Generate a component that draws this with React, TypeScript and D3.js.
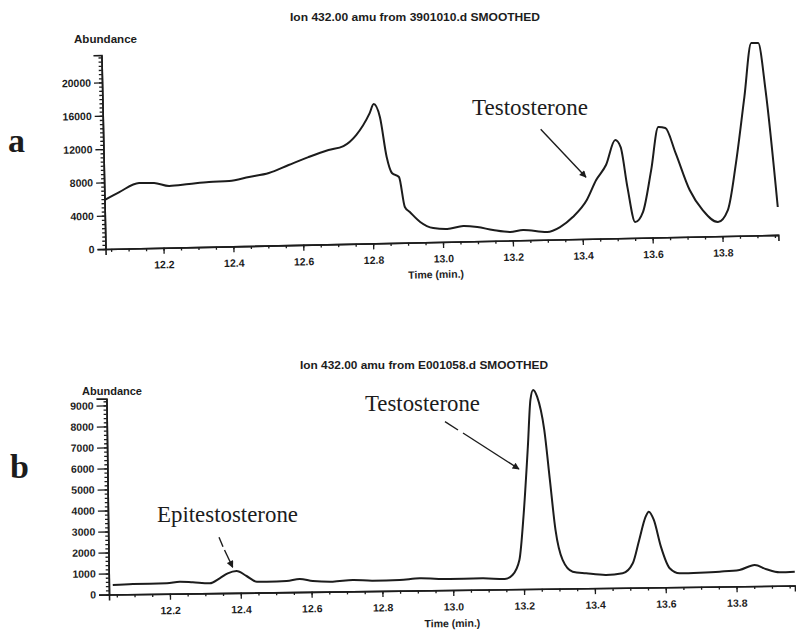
import React, { useEffect, useRef } from 'react';
import * as d3 from 'd3';

// trace a: Ion 432.00 amu from 3901010.d
const timeA = [12.034, 12.077, 12.134, 12.177, 12.22, 12.277, 12.334, 12.392, 12.449, 12.506, 12.563, 12.62, 12.678, 12.721, 12.758, 12.798, 12.81, 12.827, 12.844, 12.858, 12.878, 12.893, 12.907, 12.936, 12.973, 13.013, 13.059, 13.099, 13.144, 13.193, 13.23, 13.299, 13.336, 13.373, 13.414, 13.442, 13.471, 13.499, 13.514, 13.531, 13.551, 13.574, 13.6, 13.623, 13.643, 13.671, 13.709, 13.745, 13.788, 13.817, 13.843, 13.871, 13.894, 13.914, 13.932, 13.96];
const abundA = [5880, 6800, 7830, 7800, 7400, 7590, 7780, 7850, 8280, 8710, 9620, 10520, 11320, 11760, 13050, 15650, 16720, 15150, 10330, 8400, 7900, 4290, 3670, 2450, 1690, 1540, 1860, 1700, 1300, 1020, 1230, 920, 1490, 2660, 4670, 7040, 8820, 11790, 10940, 6120, 1900, 3080, 8100, 13250, 13110, 10080, 5610, 3170, 1700, 3110, 8730, 16630, 23090, 23070, 17420, 3350];

// trace b: Ion 432.00 amu from E001058.d
const timeB = [12.039, 12.096, 12.192, 12.228, 12.265, 12.313, 12.341, 12.364, 12.389, 12.417, 12.446, 12.474, 12.53, 12.567, 12.604, 12.66, 12.717, 12.773, 12.849, 12.906, 12.99, 13.083, 13.146, 13.168, 13.188, 13.202, 13.216, 13.225, 13.233, 13.244, 13.263, 13.277, 13.291, 13.31, 13.338, 13.376, 13.432, 13.479, 13.508, 13.527, 13.546, 13.555, 13.569, 13.588, 13.612, 13.64, 13.696, 13.753, 13.809, 13.852, 13.885, 13.922, 13.965];
const abundB = [449, 484, 497, 565, 528, 470, 702, 935, 1040, 795, 517, 511, 532, 619, 516, 470, 539, 493, 510, 578, 526, 539, 492, 678, 1388, 3623, 6762, 9000, 9473, 9152, 7562, 5177, 2794, 1361, 798, 713, 620, 690, 1160, 2266, 3371, 3607, 3209, 1933, 900, 655, 671, 707, 775, 1004, 792, 641, 660];

const timeTicks = [12.2, 12.4, 12.6, 12.8, 13.0, 13.2, 13.4, 13.6, 13.8];
const yTicksA = [0, 4000, 8000, 12000, 16000, 20000];
const yTicksB = [0, 1000, 2000, 3000, 4000, 5000, 6000, 7000, 8000, 9000];

const INK = '#1c1c1c';
const SANS = '"Liberation Sans", Arial, sans-serif';
const SERIF = '"Liberation Serif", "Times New Roman", serif';

function Panel(p: any) {
  const xRef = useRef<SVGGElement>(null);
  const yRef = useRef<SVGGElement>(null);

  const x = d3.scaleLinear().domain(p.xDomain).range([0, p.width]);
  const y = d3.scaleLinear().domain([0, p.yMax]).range([p.height, 0]);

  useEffect(() => {
    const gx = d3.select(xRef.current);
    gx.selectAll('*').remove();
    const minorX = d3.range(241, 280).map(i => i / 20).filter(t => t > p.xDomain[0] && t < p.xDomain[1]);
    gx.append('g').call(d3.axisBottom(x).tickValues(minorX).tickSize(3).tickSizeOuter(0).tickFormat(() => ''));
    gx.append('g').call(d3.axisBottom(x).tickValues(timeTicks).tickSize(6).tickPadding(7).tickFormat(d3.format('.1f')));

    const gy = d3.select(yRef.current);
    gy.selectAll('*').remove();
    const minorY = d3.range(0, p.yMax, p.yMinor);
    gy.append('g').call(d3.axisLeft(y).tickValues(minorY).tickSize(3).tickSizeOuter(0).tickFormat(() => ''));
    gy.append('g').call(d3.axisLeft(y).tickValues(p.yTicks).tickSize(p.yTickSize).tickPadding(3).tickFormat(d3.format('d')));

    [gx, gy].forEach(g => {
      g.selectAll('path.domain').attr('stroke', INK).attr('stroke-width', 1.6);
      g.selectAll('line').attr('stroke', INK).attr('stroke-width', 1.3);
      g.selectAll('text')
        .attr('fill', INK)
        .style('font-family', SANS)
        .style('font-weight', 'bold')
        .style('font-size', '10.5px');
    });
  }, []);

  const path = d3.line<number>()
    .x((d, i) => x(p.time[i]))
    .y(d => y(d))
    .curve(d3.curveMonotoneX)(p.values);

  return (
    <g transform={`translate(${p.ox},${p.oy}) rotate(${p.angle}) translate(0,${-p.height})`}>
      <g ref={yRef} />
      <g ref={xRef} transform={`translate(0,${p.height})`} />
      <path d={path || ''} fill="none" stroke={INK} strokeWidth={2} strokeLinejoin="round" />
      <text x={p.timeLabelX} y={p.height + p.timeLabelDy} textAnchor="middle" fill={INK}
        style={{ fontFamily: SANS, fontWeight: 'bold', fontSize: 10.5 }}>Time (min.)</text>
    </g>
  );
}

export default function App() {
  const small = { fontFamily: SANS, fontWeight: 'bold' as const, fontSize: 10.5, fill: INK };
  const big = { fontFamily: SERIF, fontSize: 22.5, fill: INK };
  const letter = { fontFamily: SERIF, fontWeight: 'bold' as const, fontSize: 34, fill: INK };

  return (
    <svg width={796} height={630} style={{ position: 'absolute', left: 0, top: 0, background: '#fff' }}>
      <defs>
        <marker id="head" viewBox="0 0 10 10" refX="9" refY="5" markerWidth="9" markerHeight="7"
          markerUnits="userSpaceOnUse" orient="auto">
          <path d="M0,0 L10,5 L0,10 z" fill={INK} />
        </marker>
      </defs>

      {/* panel a */}
      <text x={290} y={21} textLength={250} lengthAdjust="spacingAndGlyphs" style={small}>Ion 432.00 amu from 3901010.d SMOOTHED</text>
      <text x={74} y={43} textLength={63} lengthAdjust="spacingAndGlyphs" style={small}>Abundance</text>
      <Panel time={timeA} values={abundA} xDomain={[12.034, 13.96]} yMax={23290} yTicks={yTicksA} yMinor={500}
        yTickSize={8} ox={105.5} oy={249} angle={-1.2} width={673} height={194}
        timeLabelX={330} timeLabelDy={36} />
      <text x={8} y={152} style={letter}>a</text>
      <text x={472} y={115} textLength={116} lengthAdjust="spacingAndGlyphs" style={big}>Testosterone</text>
      <line x1={540.7} y1={129.3} x2={586} y2={177.3} stroke={INK} strokeWidth={1.4} markerEnd="url(#head)" />

      {/* panel b */}
      <text x={300} y={369} textLength={248} lengthAdjust="spacingAndGlyphs" style={small}>Ion 432.00 amu from E001058.d SMOOTHED</text>
      <text x={82} y={395} textLength={60} lengthAdjust="spacingAndGlyphs" style={small}>Abundance</text>
      <Panel time={timeB} values={abundB} xDomain={[12.028, 13.965]} yMax={9330} yTicks={yTicksB} yMinor={200}
        yTickSize={10} ox={109} oy={594.5} angle={-0.75} width={686} height={196}
        timeLabelX={343} timeLabelDy={37} />
      <text x={10} y={478} style={letter}>b</text>
      <text x={365} y={410.5} textLength={115} lengthAdjust="spacingAndGlyphs" style={big}>Testosterone</text>
      <line x1={445} y1={421.7} x2={458} y2={430} stroke={INK} strokeWidth={1.4} />
      <line x1={463} y1={433} x2={519} y2={469} stroke={INK} strokeWidth={1.4} markerEnd="url(#head)" />
      <text x={157} y={522} textLength={141} lengthAdjust="spacingAndGlyphs" style={big}>Epitestosterone</text>
      <line x1={219} y1={537.3} x2={223} y2={546.7} stroke={INK} strokeWidth={1.4} />
      <line x1={224.5} y1={550} x2={232.7} y2={567.3} stroke={INK} strokeWidth={1.4} markerEnd="url(#head)" />
    </svg>
  );
}
